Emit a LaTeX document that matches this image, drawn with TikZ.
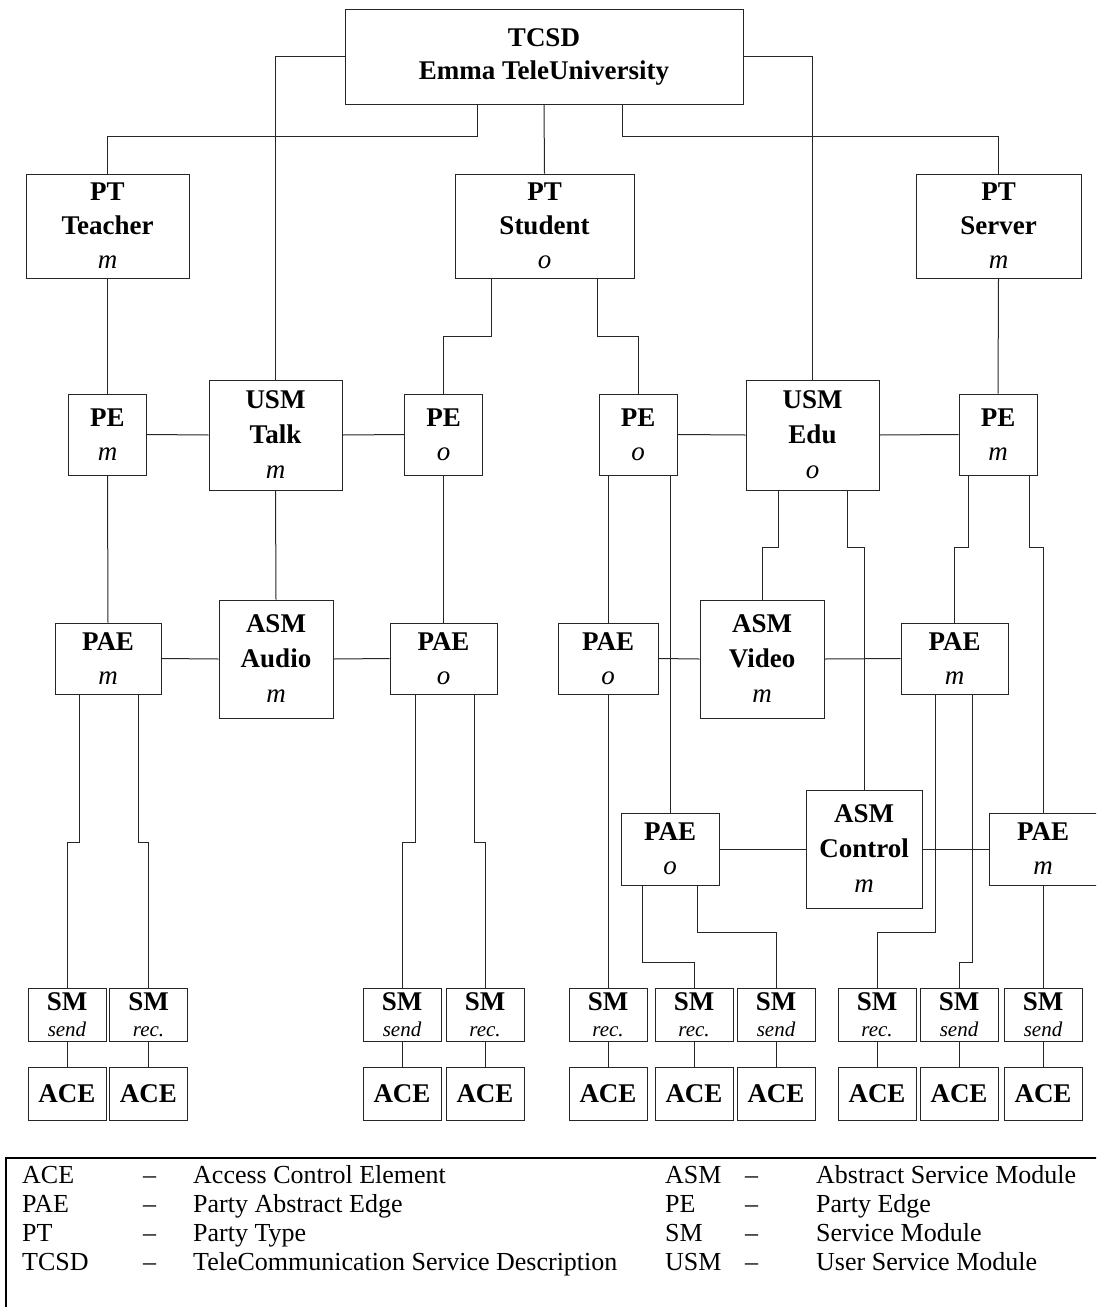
\documentclass[tikz,border=0pt]{standalone}
\usepackage{fontspec}
\setmainfont{Liberation Serif}
\newcommand{\mcard}[1]{\textmd{\itshape #1}}
\newcommand{\smdir}[1]{{\fontsize{21}{26}\selectfont\mdseries\itshape #1}}

\begin{document}
\begin{tikzpicture}[x=1pt, y=-1pt,
  blk/.style={draw=black!85, line width=1pt, align=center, inner sep=0pt, font=\fontsize{27}{34}\selectfont\bfseries},
  top/.style={blk, minimum width=398pt, minimum height=95pt, font=\fontsize{27}{33}\selectfont\bfseries},
  pt/.style={blk, minimum height=104pt},
  pe/.style={blk, minimum width=78pt, minimum height=81pt},
  usm/.style={blk, minimum width=133pt, minimum height=110pt, font=\fontsize{27}{35}\selectfont\bfseries},
  asm/.style={blk, minimum height=118pt, font=\fontsize{27}{35}\selectfont\bfseries},
  pae/.style={blk, minimum height=71pt},
  smbox/.style={blk, minimum width=78pt, minimum height=53pt, font=\fontsize{27}{26}\selectfont\bfseries},
  ace/.style={blk, minimum width=78pt, minimum height=53pt},
  link/.style={draw=black!85, line width=1pt},
  lgd/.style={anchor=base west, inner sep=0pt, font=\fontsize{26}{30}\selectfont}]
\useasboundingbox (0,0) rectangle (1096,1307);
\clip (0,0) rectangle (1096,1307);

% service description and party types
\node[top] (tcsd) at (544,56.5) {TCSD\\Emma TeleUniversity};
\node[pt, minimum width=163pt] (ptT) at (107.5,226) {PT\\Teacher\\\mcard{m}};
\node[pt, minimum width=179pt] (ptS) at (544.5,226) {PT\\Student\\\mcard{o}};
\node[pt, minimum width=165pt] (ptV) at (998.5,226) {PT\\Server\\\mcard{m}};

% party edges and user service modules
\node[pe] (peA)   at (107.5,434.5) {PE\\\mcard{m}};
\node[usm] (usmT) at (275.5,435)   {USM\\Talk\\\mcard{m}};
\node[pe] (peB)   at (443.5,434.5) {PE\\\mcard{o}};
\node[pe] (peC)   at (638,434.5)   {PE\\\mcard{o}};
\node[usm] (usmE) at (812.5,435)   {USM\\Edu\\\mcard{o}};
\node[pe] (peD)   at (998,434.5)   {PE\\\mcard{m}};

% party abstract edges and abstract service modules
\node[pae, minimum width=106pt] (paeA) at (108,658.5)   {PAE\\\mcard{m}};
\node[asm, minimum width=114pt] (asmA) at (276,659)     {ASM\\Audio\\\mcard{m}};
\node[pae, minimum width=107pt] (paeB) at (443.5,658.5) {PAE\\\mcard{o}};
\node[pae, minimum width=100pt] (paeC) at (608,658.5)   {PAE\\\mcard{o}};
\node[asm, minimum width=124pt] (asmV) at (762,659)     {ASM\\Video\\\mcard{m}};
\node[pae, minimum width=107pt] (paeD) at (954.5,658.5) {PAE\\\mcard{m}};
\node[pae, minimum width=98pt, minimum height=72pt] (paeE) at (670,849) {PAE\\\mcard{o}};
\node[asm, minimum width=116pt] (asmC) at (864,849) {ASM\\Control\\\mcard{m}};
\node[pae, minimum width=108pt, minimum height=72pt] (paeF) at (1043,849) {PAE\\\mcard{m}};

% service modules
\node[smbox] (sm1)  at (67,1014.5)    {SM\\\smdir{send}};
\node[smbox] (sm2)  at (148.5,1014.5) {SM\\\smdir{rec.}};
\node[smbox] (sm3)  at (402,1014.5)   {SM\\\smdir{send}};
\node[smbox] (sm4)  at (485,1014.5)   {SM\\\smdir{rec.}};
\node[smbox] (sm5)  at (608,1014.5)   {SM\\\smdir{rec.}};
\node[smbox] (sm6)  at (694,1014.5)   {SM\\\smdir{rec.}};
\node[smbox] (sm7)  at (776,1014.5)   {SM\\\smdir{send}};
\node[smbox] (sm8)  at (877,1014.5)   {SM\\\smdir{rec.}};
\node[smbox] (sm9)  at (959,1014.5)   {SM\\\smdir{send}};
\node[smbox] (sm10) at (1043,1014.5)  {SM\\\smdir{send}};

% access control elements
\node[ace] (ace1)  at (67,1093.5)    {ACE};
\node[ace] (ace2)  at (148.5,1093.5) {ACE};
\node[ace] (ace3)  at (402,1093.5)   {ACE};
\node[ace] (ace4)  at (485,1093.5)   {ACE};
\node[ace] (ace5)  at (608,1093.5)   {ACE};
\node[ace] (ace6)  at (694,1093.5)   {ACE};
\node[ace] (ace7)  at (776,1093.5)   {ACE};
\node[ace] (ace8)  at (877,1093.5)   {ACE};
\node[ace] (ace9)  at (959,1093.5)   {ACE};
\node[ace] (ace10) at (1043,1093.5)  {ACE};

% levels of the bends
\coordinate (busT) at (0,136);
\coordinate (busS) at (0,336);
\coordinate (busE) at (0,547);
\coordinate (jogA) at (0,842);
\coordinate (jogB) at (0,932);
\coordinate (jogC) at (0,962);

% top level
\draw[link] (tcsd.west) -| (usmT.north);
\draw[link] (tcsd.east) -| (usmE.north);
\draw[link] ([xshift=-67pt]tcsd.south) |- (ptT.north |- busT) -- (ptT.north);
\draw[link] (tcsd.south) -- (ptS.north);
\draw[link] ([xshift=78pt]tcsd.south) |- (ptV.north |- busT) -- (ptV.north);

% party types to party edges
\draw[link] (ptT.south) -- (peA.north);
\draw[link] ([xshift=-53.5pt]ptS.south) |- (peB.north |- busS) -- (peB.north);
\draw[link] ([xshift=52.5pt]ptS.south) |- (peC.north |- busS) -- (peC.north);
\draw[link] (ptV.south) -- (peD.north);
\draw[link] (peA.east) -- (usmT.west);
\draw[link] (usmT.east) -- (peB.west);
\draw[link] (peC.east) -- (usmE.west);
\draw[link] (usmE.east) -- (peD.west);

% second level
\draw[link] (peA.south) -- (paeA.north);
\draw[link] (usmT.south) -- (asmA.north);
\draw[link] (peB.south) -- (paeB.north);
\draw[link] (peC.south -| paeC.north) -- (paeC.north);
\draw[link] (peC.south -| paeE.north) -- (paeE.north);
\draw[link] ([xshift=-34.5pt]usmE.south) |- (asmV.north |- busE) -- (asmV.north);
\draw[link] ([xshift=34.5pt]usmE.south) |- (asmC.north |- busE) -- (asmC.north);
\draw[link] ([xshift=-30pt]peD.south) |- (paeD.north |- busE) -- (paeD.north);
\draw[link] ([xshift=31pt]peD.south) |- (paeF.north |- busE) -- (paeF.north);
\draw[link] (paeA.east) -- (asmA.west);
\draw[link] (asmA.east) -- (paeB.west);
\draw[link] (paeC.east) -- (asmV.west);
\draw[link] (asmV.east) -- (paeD.west);
\draw[link] (paeE.east) -- (asmC.west);
\draw[link] (asmC.east) -- (paeF.west);

% abstract edges to service modules
\draw[link] ([xshift=-29pt]paeA.south) |- (sm1.north |- jogA) -- (sm1.north);
\draw[link] ([xshift=30pt]paeA.south) |- (sm2.north |- jogA) -- (sm2.north);
\draw[link] ([xshift=-28.5pt]paeB.south) |- (sm3.north |- jogA) -- (sm3.north);
\draw[link] ([xshift=30.5pt]paeB.south) |- (sm4.north |- jogA) -- (sm4.north);
\draw[link] (paeC.south) -- (sm5.north);
\draw[link] ([xshift=-28pt]paeE.south) |- (sm6.north |- jogC) -- (sm6.north);
\draw[link] ([xshift=27pt]paeE.south) |- (sm7.north |- jogB) -- (sm7.north);
\draw[link] ([xshift=-19.5pt]paeD.south) |- (sm8.north |- jogB) -- (sm8.north);
\draw[link] ([xshift=17.5pt]paeD.south) |- (sm9.north |- jogC) -- (sm9.north);
\draw[link] (paeF.south) -- (sm10.north);

% service modules to access control elements
\draw[link] (sm1.south) -- (ace1.north);
\draw[link] (sm2.south) -- (ace2.north);
\draw[link] (sm3.south) -- (ace3.north);
\draw[link] (sm4.south) -- (ace4.north);
\draw[link] (sm5.south) -- (ace5.north);
\draw[link] (sm6.south) -- (ace6.north);
\draw[link] (sm7.south) -- (ace7.north);
\draw[link] (sm8.south) -- (ace8.north);
\draw[link] (sm9.south) -- (ace9.north);
\draw[link] (sm10.south) -- (ace10.north);

% legend
\draw[line width=2.5pt] (6,1158) rectangle (1110,1330);
\node[lgd] (ab1) at (22,1183)  {ACE};
\node[lgd] (da1) at (143,1183) {--};
\node[lgd] (tx1) at (193,1183) {Access Control Element};
\node[lgd] (ab2) at (22,1212)  {PAE};
\node[lgd] (da2) at (143,1212) {--};
\node[lgd] (tx2) at (193,1212) {Party Abstract Edge};
\node[lgd] (ab3) at (22,1241)  {PT};
\node[lgd] (da3) at (143,1241) {--};
\node[lgd] (tx3) at (193,1241) {Party Type};
\node[lgd] (ab4) at (22,1270)  {TCSD};
\node[lgd] (da4) at (143,1270) {--};
\node[lgd] (tx4) at (193,1270) {TeleCommunication Service Description};
\node[lgd] (ab5) at (665,1183) {ASM};
\node[lgd] (da5) at (745,1183) {--};
\node[lgd] (tx5) at (816,1183) {Abstract Service Module};
\node[lgd] (ab6) at (665,1212) {PE};
\node[lgd] (da6) at (745,1212) {--};
\node[lgd] (tx6) at (816,1212) {Party Edge};
\node[lgd] (ab7) at (665,1241) {SM};
\node[lgd] (da7) at (745,1241) {--};
\node[lgd] (tx7) at (816,1241) {Service Module};
\node[lgd] (ab8) at (665,1270) {USM};
\node[lgd] (da8) at (745,1270) {--};
\node[lgd] (tx8) at (816,1270) {User Service Module};
\end{tikzpicture}
\end{document}
